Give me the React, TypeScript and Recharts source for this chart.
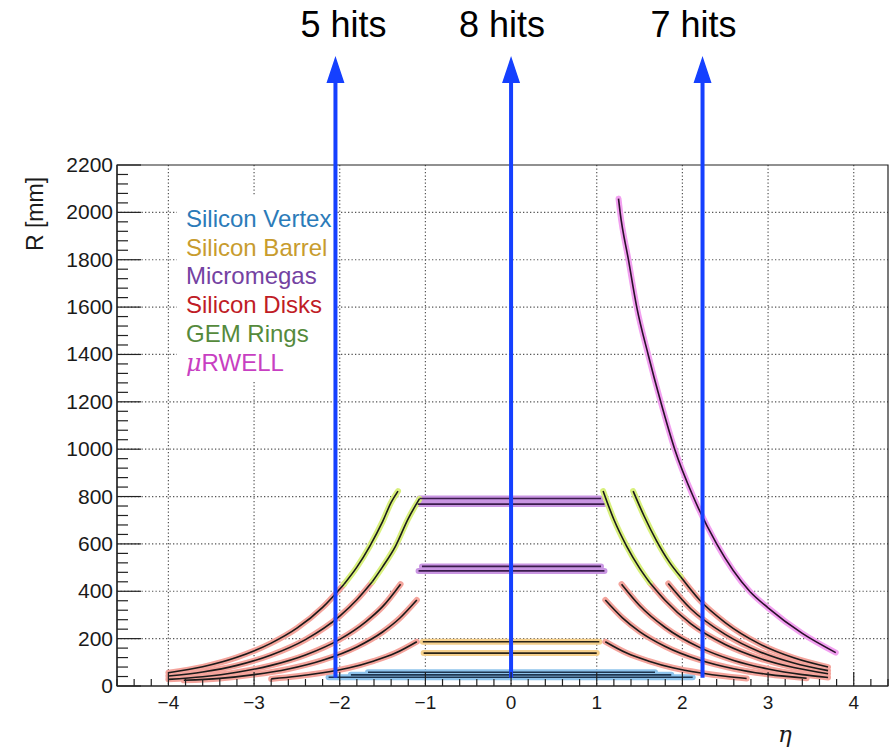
import React from "react";
import {
  LineChart,
  Line,
  XAxis,
  YAxis,
  CartesianGrid,
  ReferenceLine,
  ReferenceArea,
} from "recharts";

type Pt = [number, number]; // [eta, R in mm]

// axes
const etaDomain = [-4.6, 4.4];
const rDomain = [0, 2200];
const etaMajor = [-4, -3, -2, -1, 0, 1, 2, 3, 4];
const rMajor = [0, 200, 400, 600, 800, 1000, 1200, 1400, 1600, 1800, 2000, 2200];

// Silicon Vertex layers
const vertex1: Pt[] = [[-2.13, 37], [2.12, 37]];
const vertex2: Pt[] = [[-1.87, 47], [1.87, 47]];
const vertex3: Pt[] = [[-1.67, 58], [1.68, 58]];

// Silicon Barrel layers
const barrel1: Pt[] = [[-1.02, 139], [1.0, 139]];
const barrel2: Pt[] = [[-1.03, 187], [1.03, 187]];

// Micromegas layers
const mmg1: Pt[] = [[-1.08, 486], [1.09, 486]];
const mmg2: Pt[] = [[-1.04, 505], [1.05, 505]];
const mmg3: Pt[] = [[-1.09, 768], [1.09, 768]];
const mmg4: Pt[] = [[-1.07, 792], [1.05, 792]];

// Silicon Disks, electron side
const diskE1: Pt[] = [[-2.8, 30], [-2.5, 41], [-2.2, 56], [-1.9, 76], [-1.6, 106], [-1.35, 139], [-1.1, 187]];
const diskE2: Pt[] = [[-3.82, 24], [-3.4, 32], [-3.0, 48], [-2.6, 72], [-2.2, 109], [-1.8, 165], [-1.5, 228], [-1.3, 286], [-1.1, 363]];
const diskE3: Pt[] = [[-4.0, 28], [-3.6, 39], [-3.2, 58], [-2.8, 87], [-2.4, 131], [-2.0, 197], [-1.7, 270], [-1.5, 335], [-1.29, 430]];
const diskE4: Pt[] = [[-4.0, 42], [-3.6, 59], [-3.2, 87], [-2.8, 131], [-2.4, 196], [-2.0, 295], [-1.8, 364], [-1.62, 440]];
const diskE5: Pt[] = [[-4.0, 56], [-3.6, 81], [-3.2, 121], [-2.8, 181], [-2.5, 244], [-2.2, 332], [-1.95, 430]];

// Silicon Disks, hadron side
const diskH1: Pt[] = [[1.1, 187], [1.35, 139], [1.6, 106], [1.9, 76], [2.2, 56], [2.5, 41], [2.75, 32]];
const diskH2: Pt[] = [[1.1, 363], [1.3, 288], [1.5, 230], [1.8, 167], [2.2, 110], [2.6, 73], [3.0, 49], [3.45, 33]];
const diskH3: Pt[] = [[1.29, 430], [1.5, 340], [1.8, 247], [2.2, 163], [2.6, 108], [3.0, 72], [3.4, 48], [3.7, 36]];
const diskH4: Pt[] = [[1.62, 436], [1.8, 361], [2.1, 262], [2.5, 175], [2.9, 117], [3.3, 78], [3.7, 52]];
const diskH5: Pt[] = [[1.835, 433], [2.1, 325], [2.5, 218], [2.9, 145], [3.3, 97], [3.7, 65]];
const diskH6: Pt[] = [[1.98, 461], [2.2, 363], [2.5, 268], [2.9, 178], [3.3, 119], [3.7, 80]];

// GEM rings
const gemE1: Pt[] = [[-1.62, 440], [-1.5, 503], [-1.35, 590], [-1.2, 707], [-1.07, 790]];
const gemE2: Pt[] = [[-1.95, 430], [-1.8, 502], [-1.65, 590], [-1.5, 694], [-1.4, 775], [-1.32, 823]];
const gemH1: Pt[] = [[1.075, 823], [1.2, 703], [1.35, 590], [1.5, 498], [1.62, 436]];
const gemH2: Pt[] = [[1.425, 823], [1.55, 720], [1.7, 612], [1.85, 522], [1.98, 461]];

// uRWELL
const urwell: Pt[] = [
  [1.254, 2058], [1.273, 2000], [1.37, 1800], [1.467, 1600], [1.6, 1400], [1.747, 1200],
  [1.91, 1000], [2.126, 800], [2.4, 600], [2.785, 400], [3.0, 330], [3.4, 222], [3.79, 141],
];

// hit-count arrows
const hitEta = [-2.05, 0, 2.235];
const hitLabels = ["5 hits", "8 hits", "7 hits"];
const arrowFrom = 35;
const arrowTo = 2660;

const groups = [
  { name: "Silicon Vertex", text: "#2b7bb9", halo: "#8ec3ec", core: "#1d3550", series: [vertex1, vertex2, vertex3] },
  { name: "Silicon Barrel", text: "#c89c2e", halo: "#f5d08c", core: "#2a2418", series: [barrel1, barrel2] },
  { name: "Micromegas", text: "#7442a2", halo: "#c995e2", core: "#3a1c4c", series: [mmg1, mmg2, mmg3, mmg4] },
  {
    name: "Silicon Disks", text: "#c01c26", halo: "#f4a49c", core: "#1a1a1a",
    series: [diskE1, diskE2, diskE3, diskE4, diskE5, diskH1, diskH2, diskH3, diskH4, diskH5, diskH6],
  },
  { name: "GEM Rings", text: "#558a3c", halo: "#d8f07c", core: "#1a1a1a", series: [gemE1, gemE2, gemH1, gemH2] },
  { name: "RWELL", text: "#c83fc2", halo: "#f2a0f0", core: "#2a102a", series: [urwell] },
];

const FONT = '"Liberation Sans", Arial, Helvetica, sans-serif';
const labelShift = [8, -9, -9];

const etaTicks: number[] = [];
for (let i = 0; i <= 45; i++) etaTicks.push(Math.round((-4.6 + i * 0.2) * 10) / 10);
const rTicks: number[] = [];
for (let v = 0; v <= 2200; v += 40) rTicks.push(v);

const toRows = (s: Pt[]) => s.map(([eta, r]) => ({ eta, r }));
const fmt = (v: number) => (v < 0 ? `\u2212${Math.abs(v)}` : `${v}`);

function EtaTick(props: any) {
  const { x, y, payload } = props;
  const v = payload.value;
  const major = Math.abs(v - Math.round(v)) < 1e-6;
  return (
    <g>
      <line x1={x} y1={y} x2={x} y2={y - (major ? 14 : 7)} stroke="#222" strokeWidth={1.2} />
      {major && (
        <text x={x} y={y + 23} textAnchor="middle" fontSize={19} fill="#1a1a1a" fontFamily={FONT}>
          {fmt(Math.round(v))}
        </text>
      )}
    </g>
  );
}

function RTick(props: any) {
  const { x, y, payload } = props;
  const v = payload.value;
  const major = v % 200 === 0;
  return (
    <g>
      <line x1={x} y1={y} x2={x + (major ? 24 : 11)} y2={y} stroke="#222" strokeWidth={1.2} />
      {major && (
        <text x={x - 4} y={y + 7} textAnchor="end" fontSize={21} fill="#1a1a1a" fontFamily={FONT}>
          {v}
        </text>
      )}
    </g>
  );
}

const arrowShape = (i: number) => (p: any) => {
  const { x1, y1, x2, y2 } = p;
  return (
    <g>
      <line x1={x1} y1={y1} x2={x2} y2={y2 + 24} stroke="#1540ff" strokeWidth={4} />
      <polygon points={`${x2},${y2} ${x2 - 9},${y2 + 27} ${x2 + 9},${y2 + 27}`} fill="#1540ff" />
      <text x={x2 + labelShift[i]} y={y2 - 19} textAnchor="middle" fontSize={36} fill="#000" fontFamily={FONT}>
        {hitLabels[i]}
      </text>
    </g>
  );
};

// legend box and axis titles, drawn straight into the chart svg
function Decorations() {
  return (
    <g>
      <rect x={177} y={196} width={157} height={186} fill="#fff" />
      {groups.map((g, i) => (
        <text key={g.name} x={186} y={227 + i * 28.7} fontSize={24} fill={g.text} fontFamily={FONT}>
          {g.name === "RWELL" ? (
            <>
              <tspan fontStyle="italic" fontFamily='"DejaVu Serif", serif'>μ</tspan>
              <tspan>RWELL</tspan>
            </>
          ) : (
            g.name
          )}
        </text>
      ))}
      <text x={43} y={214} transform="rotate(-90 43 214)" textAnchor="middle" fontSize={23} fontFamily={FONT} fill="#1a1a1a">
        R [mm]
      </text>
      <text x={785} y={742} textAnchor="middle" fontSize={23} fontStyle="italic"
        fontFamily='"DejaVu Serif", "Liberation Serif", serif' fill="#1a1a1a">
        η
      </text>
    </g>
  );
}

export default function App() {
  return (
    <div style={{ position: "absolute", left: 0, top: 0, width: 893, height: 752, background: "#fff", fontFamily: FONT }}>
      <LineChart width={893} height={752} margin={{ top: 165, right: 5, bottom: 26, left: 57 }}>
        <CartesianGrid
          stroke="#555"
          strokeWidth={1.2}
          strokeDasharray="1.3 2.2"
          verticalValues={etaMajor}
          horizontalValues={rMajor.slice(1, -1)}
        />
        <XAxis
          type="number"
          dataKey="eta"
          domain={etaDomain}
          ticks={etaTicks}
          interval={0}
          allowDataOverflow
          tickSize={0}
          tickMargin={0}
          tickLine={false}
          axisLine={{ stroke: "#222", strokeWidth: 1.2 }}
          tick={(p: any) => <EtaTick {...p} />}
          height={40}
        />
        <YAxis
          type="number"
          dataKey="r"
          domain={rDomain}
          ticks={rTicks}
          interval={0}
          allowDataOverflow
          tickSize={0}
          tickMargin={0}
          tickLine={false}
          axisLine={{ stroke: "#222", strokeWidth: 1.2 }}
          tick={(p: any) => <RTick {...p} />}
          width={60}
        />
        <ReferenceArea x1={etaDomain[0]} x2={etaDomain[1]} y1={rDomain[0]} y2={rDomain[1]} fill="none" stroke="#222" strokeWidth={1.2} />
        <Decorations />
        {groups.flatMap((g, gi) =>
          g.series.map((s, si) => (
            <Line
              key={`halo-${gi}-${si}`}
              data={toRows(s)}
              dataKey="r"
              type="monotone"
              stroke={g.halo}
              strokeWidth={6}
              strokeLinecap="round"
              dot={false}
              activeDot={false}
              isAnimationActive={false}
            />
          ))
        )}
        {groups.flatMap((g, gi) =>
          g.series.map((s, si) => (
            <Line
              key={`core-${gi}-${si}`}
              data={toRows(s)}
              dataKey="r"
              type="monotone"
              stroke={g.core}
              strokeWidth={1.6}
              dot={false}
              activeDot={false}
              isAnimationActive={false}
            />
          ))
        )}
        {hitEta.map((e, i) => (
          <ReferenceLine
            key={`hit-${i}`}
            segment={[{ x: e, y: arrowFrom }, { x: e, y: arrowTo }]}
            ifOverflow="visible"
            shape={arrowShape(i)}
          />
        ))}
      </LineChart>
    </div>
  );
}
